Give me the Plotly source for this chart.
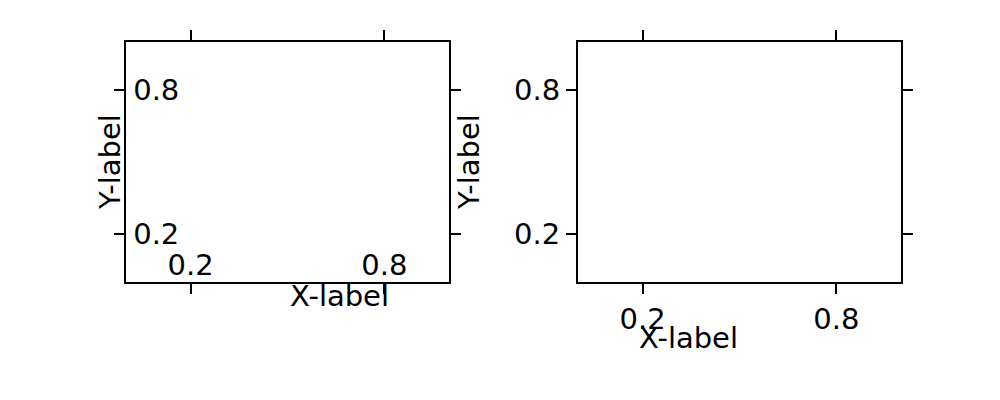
import plotly.graph_objects as go

x_ticks = [0.2, 0.8]
y_ticks = [0.2, 0.8]
tick_text = ["0.2", "0.8"]

fig = go.Figure()
fig.add_trace(go.Scatter(x=[], y=[], xaxis="x", yaxis="y"))
fig.add_trace(go.Scatter(x=[], y=[], xaxis="x2", yaxis="y2"))

ax = dict(range=[0, 1], tickvals=x_ticks, ticktext=tick_text, showgrid=False, zeroline=False,
          showline=True, linecolor="black", linewidth=2, mirror="ticks", ticks="outside",
          ticklen=10, tickwidth=1.5, tickcolor="black", tickfont=dict(size=29, color="black"))

fig.update_layout(
    width=1000, height=400, margin=dict(l=0, r=0, t=0, b=0),
    plot_bgcolor="white", paper_bgcolor="white", showlegend=False,
    font=dict(family="DejaVu Sans", color="black"),
    xaxis=dict(ax, domain=[0.118, 0.441], anchor="y", ticklabelposition="inside", ticklabelstandoff=4),
    yaxis=dict(ax, domain=[0.315, 0.915], anchor="x", ticklabelposition="inside", ticklabelstandoff=10),
    xaxis2=dict(ax, domain=[0.570, 0.893], anchor="y2"),
    yaxis2=dict(ax, domain=[0.315, 0.915], anchor="x2"),
    annotations=[
        dict(text="X-label", x=0.2795, y=1 - 307 / 400, xref="paper", yref="paper", showarrow=False, font=dict(size=29)),
        dict(text="Y-label", x=0.083, y=0.615, xref="paper", yref="paper", textangle=-90, showarrow=False, font=dict(size=29)),
        dict(text="X-label", x=0.7315, y=1 - 349 / 400, xref="paper", yref="paper", showarrow=False, font=dict(size=29)),
        dict(text="Y-label", x=0.461, y=0.615, xref="paper", yref="paper", textangle=-90, showarrow=False, font=dict(size=29)),
    ],
)
fig.write_html("out.html")
